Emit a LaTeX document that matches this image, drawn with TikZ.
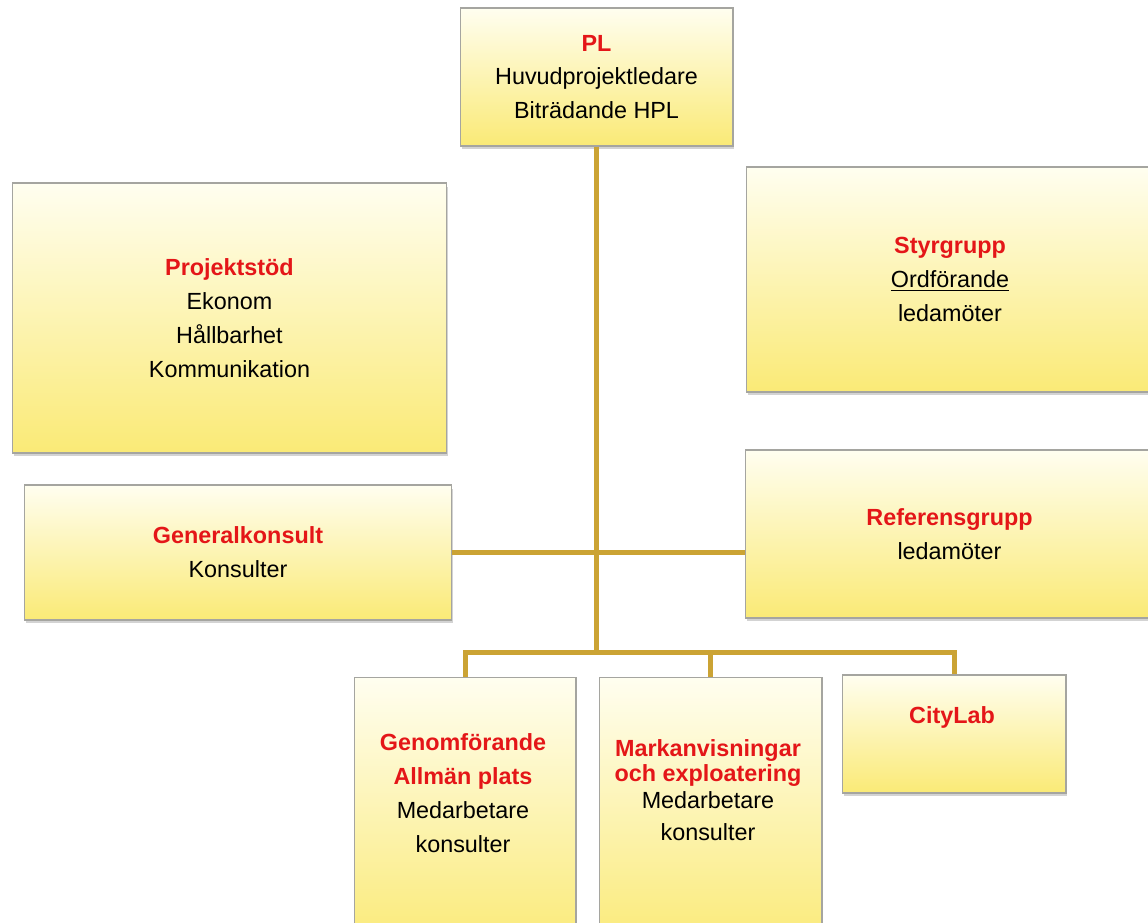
\documentclass[tikz,border=0pt]{standalone}
\usepackage{fontspec}
\setmainfont{Liberation Sans}
\usepackage{xcolor}
\usetikzlibrary{positioning, shadows}
\definecolor{titlered}{RGB}{228,22,24}
\definecolor{linkgold}{RGB}{203,163,52}
\definecolor{boxtop}{RGB}{255,254,240}
\definecolor{boxbottom}{RGB}{250,234,118}
\definecolor{boxline}{RGB}{165,165,160}

\begin{document}
\begin{tikzpicture}[x=0.02cm,y=-0.02cm,
  orgbox/.style={draw=boxline, line width=0.6pt, rectangle, align=center,
    top color=boxtop, bottom color=boxbottom,
    drop shadow={opacity=0.35, shadow xshift=0.03cm, shadow yshift=-0.07cm},
    font=\fontsize{13.3pt}{19.3pt}\selectfont},
  orgtext/.style={align=center, font=\fontsize{13.3pt}{19.3pt}\selectfont},
  link/.style={linkgold, line width=0.1cm}]
\useasboundingbox (0,0) rectangle (1148,922);
\clip (0,0) rectangle (1148,922);
\node[orgbox, minimum width=5.46cm, minimum height=2.76cm] (pl) at (596.5,77)
  {\textcolor{titlered}{\textbf{PL}}\\Huvudprojektledare\\Biträdande HPL};
\node[orgbox, minimum width=8.7cm, minimum height=5.4cm] (stod) at (229.5,318)
  {\textcolor{titlered}{\textbf{Projektstöd}}\\Ekonom\\Hållbarhet\\Kommunikation};
\node[orgbox, minimum width=8.16cm, minimum height=4.5cm] (styr) at (950,279.5)
  {\textcolor{titlered}{\textbf{Styrgrupp}}\\\underline{Ordförande}\\ledamöter};
\node[orgbox, minimum width=8.56cm, minimum height=2.7cm] (gk) at (238,552.5)
  {\textcolor{titlered}{\textbf{Generalkonsult}}\\Konsulter};
\node[orgbox, minimum width=8.18cm, minimum height=3.36cm] (ref) at (949.5,534)
  {\textcolor{titlered}{\textbf{Referensgrupp}}\\ledamöter};
\node[orgbox, minimum width=4.44cm, minimum height=5.46cm] (gen) at (465,813.5) {};
\node[orgbox, minimum width=4.46cm, minimum height=5.46cm] (mark) at (710.5,813.5) {};
\node[orgbox, minimum width=4.48cm, minimum height=2.36cm] (city) at (954,734) {};
\node[orgtext] (gentxt) at (463,793)
  {\textcolor{titlered}{\textbf{Genomförande}}\\\textcolor{titlered}{\textbf{Allmän plats}}\\Medarbetare\\konsulter};
\node[orgtext] (marktxt) at (708,790)
  {\textcolor{titlered}{\textbf{Markanvisningar}}\\[-5pt]\textcolor{titlered}{\textbf{och exploatering}}\\[-4pt]Medarbetare\\[-1pt]konsulter};
\node[orgtext] (citytxt) at (952,717) {\textcolor{titlered}{\textbf{CityLab}}};
\path coordinate (bus) at (596.5,652);
\draw[link] (pl.south) -- (bus);
\draw[link] (gk.east) -- (gk.east -| ref.west);
\draw[link] (gen.north) |- (bus) -| (city.north);
\draw[link] (mark.north) -- (mark.north |- bus);
\end{tikzpicture}
\end{document}
